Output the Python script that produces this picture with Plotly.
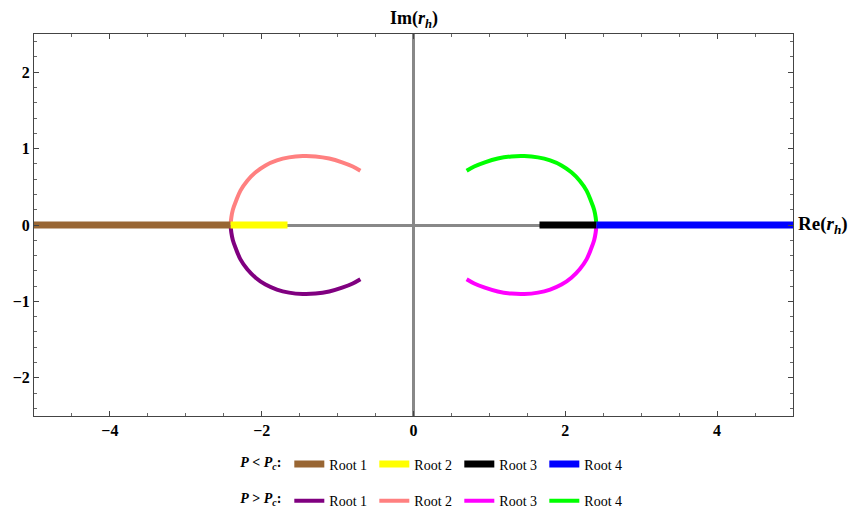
import plotly.graph_objects as go

# ---------------- data ----------------
# P < Pc : real roots (on the real axis)
root1_lo_x = [-5.0, -2.41]
root1_lo_y = [0.0, 0.0]
root2_lo_x = [-2.41, -1.66]
root2_lo_y = [0.0, 0.0]
root3_lo_x = [1.66, 2.41]
root3_lo_y = [0.0, 0.0]
root4_lo_x = [2.41, 5.0]
root4_lo_y = [0.0, 0.0]

# P > Pc : complex roots
root2_hi_x = [-2.41, -2.40, -2.38, -2.34, -2.28, -2.19, -2.08, -1.95, -1.80, -1.64, -1.46, -1.29, -1.11, -0.94, -0.80, -0.70]
root2_hi_y = [0.00, 0.10, 0.20, 0.31, 0.45, 0.58, 0.69, 0.78, 0.845, 0.885, 0.903, 0.898, 0.87, 0.82, 0.765, 0.71]

root1_hi_x = [-2.41, -2.40, -2.38, -2.34, -2.28, -2.19, -2.08, -1.95, -1.80, -1.64, -1.46, -1.29, -1.11, -0.94, -0.80, -0.70]
root1_hi_y = [0.00, -0.10, -0.20, -0.31, -0.45, -0.58, -0.69, -0.78, -0.845, -0.885, -0.903, -0.898, -0.87, -0.82, -0.765, -0.71]

root4_hi_x = [2.41, 2.40, 2.38, 2.34, 2.28, 2.19, 2.08, 1.95, 1.80, 1.64, 1.46, 1.29, 1.11, 0.94, 0.80, 0.70]
root4_hi_y = [0.00, 0.10, 0.20, 0.31, 0.45, 0.58, 0.69, 0.78, 0.845, 0.885, 0.903, 0.898, 0.87, 0.82, 0.765, 0.71]

root3_hi_x = [2.41, 2.40, 2.38, 2.34, 2.28, 2.19, 2.08, 1.95, 1.80, 1.64, 1.46, 1.29, 1.11, 0.94, 0.80, 0.70]
root3_hi_y = [0.00, -0.10, -0.20, -0.31, -0.45, -0.58, -0.69, -0.78, -0.845, -0.885, -0.903, -0.898, -0.87, -0.82, -0.765, -0.71]

x_ticks = [-4, -2, 0, 2, 4]
y_ticks = [-2, -1, 0, 1, 2]

SERIF = "Liberation Serif"

fig = go.Figure()

# complex arcs first (drawn below the thick real-root lines)
hi = [
    ("Root 1", root1_hi_x, root1_hi_y, "#800080"),
    ("Root 2", root2_hi_x, root2_hi_y, "#FF8080"),
    ("Root 3", root3_hi_x, root3_hi_y, "#FF00FF"),
    ("Root 4", root4_hi_x, root4_hi_y, "#00FF00"),
]
lo = [
    ("Root 1", root1_lo_x, root1_lo_y, "#996633"),
    ("Root 2", root2_lo_x, root2_lo_y, "#FFFF00"),
    ("Root 3", root3_lo_x, root3_lo_y, "#000000"),
    ("Root 4", root4_lo_x, root4_lo_y, "#0000FF"),
]
for name, xs, ys, c in hi:
    fig.add_trace(go.Scatter(x=xs, y=ys, mode="lines", name=name,
                             line=dict(color=c, width=4, shape="spline", smoothing=1.0),
                             legend="legend2", hoverinfo="skip"))
for name, xs, ys, c in lo:
    fig.add_trace(go.Scatter(x=xs, y=ys, mode="lines", name=name,
                             line=dict(color=c, width=7),
                             legend="legend", hoverinfo="skip"))


def fmt(v):
    return f"<b>{'−' if v < 0 else ''}{abs(v)}</b>"


axis_common = dict(
    showgrid=False, zeroline=True, zerolinecolor="#888888", zerolinewidth=3,
    showline=True, mirror="ticks", linecolor="#444444", linewidth=1,
    ticks="inside", ticklen=5, tickcolor="#444444", tickwidth=1,
    tickfont=dict(family=SERIF, size=16, color="black"),
    automargin=False,
)

fig.update_xaxes(range=[-5, 5], tickvals=x_ticks, ticktext=[fmt(v) for v in x_ticks],
                 minor=dict(dtick=0.5, tick0=0, ticks="inside", ticklen=3, tickcolor="#666666"),
                 **axis_common)
fig.update_yaxes(range=[-2.5, 2.5], tickvals=y_ticks, ticktext=[fmt(v) for v in y_ticks],
                 minor=dict(dtick=0.2, tick0=0, ticks="inside", ticklen=3, tickcolor="#666666"),
                 **axis_common)

legend_common = dict(
    orientation="h", xanchor="left", yanchor="middle",
    font=dict(family=SERIF, size=14, color="black"),
    bgcolor="rgba(0,0,0,0)", entrywidth=40, entrywidthmode="pixels",
    itemclick=False, itemdoubleclick=False, tracegroupgap=0,
)

# the page body adds an 8px offset, so the figure is drawn 8px smaller
fig.update_layout(
    width=848, height=502,
    margin=dict(l=26, r=63, t=26, b=94, autoexpand=False),
    plot_bgcolor="white", paper_bgcolor="white",
    showlegend=True,
    legend=dict(x=0.269, y=-0.127,
                title=dict(text="<b><i>P</i> &lt; <i>P</i><sub><i>c</i></sub>:</b>", side="left",
                           font=dict(family=SERIF, size=14, color="black")),
                **legend_common),
    legend2=dict(x=0.269, y=-0.223,
                 title=dict(text="<b><i>P</i> &gt; <i>P</i><sub><i>c</i></sub>:</b>", side="left",
                            font=dict(family=SERIF, size=14, color="black")),
                 **legend_common),
    annotations=[
        dict(text="<b>Im(<i>r</i><sub><i>h</i></sub>)</b>", xref="paper", yref="paper",
             x=0.5, y=1, xanchor="center", yanchor="bottom", yshift=1, showarrow=False,
             font=dict(family=SERIF, size=18, color="black")),
        dict(text="<b>Re(<i>r</i><sub><i>h</i></sub>)</b>", xref="paper", yref="y",
             x=1, y=0, xanchor="left", yanchor="middle", xshift=3, showarrow=False,
             font=dict(family=SERIF, size=19, color="black")),
    ],
)

fig.write_html("out.html")
